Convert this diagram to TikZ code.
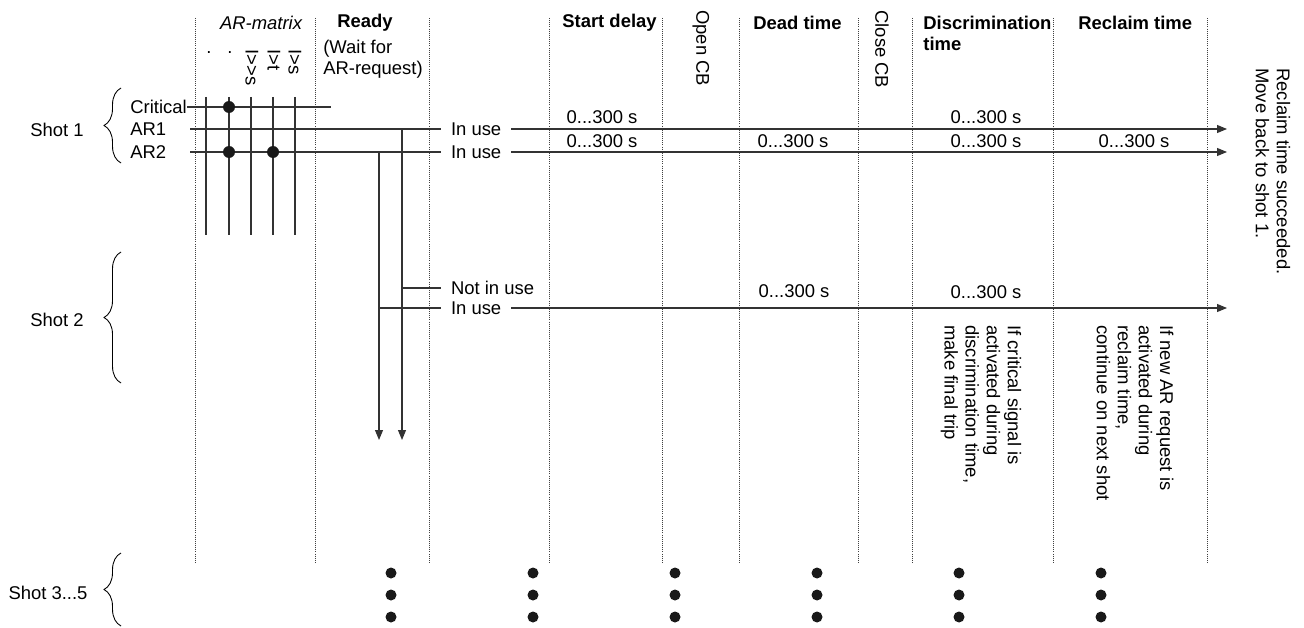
\documentclass[tikz,border=0pt]{standalone}
\usepackage{fontspec}
\setmainfont{Liberation Sans}
\usetikzlibrary{arrows.meta,decorations.pathreplacing}

\begin{document}
\begin{tikzpicture}[
    x=0.02cm, y=-0.02cm,
    every node/.style={font=\fontsize{10.5}{12}\selectfont, inner sep=0pt},
    head/.style={anchor=west, font=\fontsize{10.5}{12}\selectfont\bfseries},
    vert/.style={rotate=-90, anchor=west, align=left},
    sep/.style={black!75, line width=0.4pt, dash pattern=on 0.4pt off 0.8pt},
    sig/.style={black!80, line width=0.6pt},
    arr/.style={sig, -{Triangle[length=2mm,width=1.6mm]}},
    gap/.style={anchor=west, fill=white, inner xsep=5.5pt, inner ysep=1pt},
    blob/.style={circle, fill=black!90, minimum size=2.4mm},
    brc/.style={decorate, decoration={brace, amplitude=3.4mm}, line width=0.5pt},
  ]
  \useasboundingbox (0,0) rectangle (1304,628);

  % column separators
  \foreach \x in {195,315,429,549,662,739,858,912,1053,1207}
    \draw[sep] (\x,18) -- (\x,562);

  % headers
  \node[font=\fontsize{10.5}{12}\selectfont\itshape] (armatrix) at (261,23) {AR-matrix};
  \node[head] (ready) at (337,23) {Ready};
  \node[align=left] (waitfor) at (373,59) {(Wait for\\AR-request)};
  \node[head] (startdelay) at (562,23) {Start delay};
  \node[vert] (opencb) at (701,10) {Open CB};
  \node[head] (deadtime) at (753,23) {Dead time};
  \node[vert] (closecb) at (882,10) {Close CB};
  \node[head, align=left] (discrtime) at (923,33.5) {Discrimination\\time};
  \node[head] (reclaimtime) at (1078,23) {Reclaim time};

  % AR-matrix columns
  \node (mc1) at (209,53) {.};
  \node (mc2) at (230,53) {.};
  \node[vert] (mc3) at (252,49) {I>{}>s};
  \node[vert] (mc4) at (274,49) {I>t};
  \node[vert] (mc5) at (295,49) {I>s};
  \foreach \x [count=\i] in {206,229,251,273,295} {
    \coordinate (mt\i) at (\x,97);
    \coordinate (mb\i) at (\x,235);
    \draw[sig] (mt\i) -- (mb\i);
  }

  % shots
  \node (shot1) at (57,130) {Shot 1};
  \node (shot2) at (57,320) {Shot 2};
  \node (shot3) at (48,593) {Shot 3...5};
  \draw[brc] (121,163) -- (121,88);
  \draw[brc] (121,383) -- (121,252);
  \draw[brc] (121,626) -- (121,553);

  \node[anchor=west] (critical) at (130,107) {Critical};
  \node[anchor=west] (ar1) at (130,129) {AR1};
  \node[anchor=west] (ar2) at (130,152) {AR2};

  % signal lines, shot 1
  \coordinate (crit end) at (331,107);
  \draw[sig] (critical.east) -- (crit end);

  \coordinate (ar1 start) at (190,129);
  \coordinate (ar1 end) at (1227,129);
  \node[gap] (use1) at (441,129) {In use};
  \draw[sig] (ar1 start) -- (use1);
  \draw[arr] (use1) -- (ar1 end);

  \coordinate (ar2 start) at (190,152);
  \coordinate (ar2 end) at (1227,152);
  \node[gap] (use2) at (441,152) {In use};
  \draw[sig] (ar2 start) -- (use2);
  \draw[arr] (use2) -- (ar2 end);

  \coordinate (drop1 top) at (402,129);
  \coordinate (drop1 end) at (402,440);
  \coordinate (drop2 top) at (379,152);
  \coordinate (drop2 end) at (379,440);
  \draw[arr] (drop1 top) -- (drop1 end);
  \draw[arr] (drop2 top) -- (drop2 end);

  % signal lines, shot 2
  \coordinate (nu start) at (402,288);
  \node[gap] (notuse) at (441,288) {Not in use};
  \draw[sig] (nu start) -- (notuse);

  \coordinate (u start) at (379,308);
  \coordinate (u end) at (1227,308);
  \node[gap] (use3) at (441,308) {In use};
  \draw[sig] (u start) -- (use3);
  \draw[arr] (use3) -- (u end);

  % junctions
  \node[blob] (j1) at (229,107) {};
  \node[blob] (j2) at (229,152) {};
  \node[blob] (j3) at (273,152) {};

  % times
  \node (sda) at (602,117) {0...300 s};
  \node (sdb) at (602,141) {0...300 s};
  \node (dtb) at (793,141) {0...300 s};
  \node (dia) at (986,117) {0...300 s};
  \node (dib) at (986,141) {0...300 s};
  \node (rcb) at (1134,141) {0...300 s};
  \node (dtc) at (794,291) {0...300 s};
  \node (dic) at (986,292) {0...300 s};

  % notes
  \node[vert] (critnote) at (981,325)
    {If critical signal is\\activated during\\discrimination time,\\make final trip};
  \node[vert] (reclnote) at (1135,325)
    {If new AR request is\\activated during\\reclaim time,\\continue on next shot};
  \node[vert] (backnote) at (1273,68) {Reclaim time succeeded.\\Move back to shot 1.};

  % shot 3...5
  \foreach \x [count=\i] in {391,533,675,817,959,1101}
    \foreach \y [count=\j] in {573,595,617}
      \node[blob, minimum size=2.2mm] (more\i\j) at (\x,\y) {};
\end{tikzpicture}
\end{document}
